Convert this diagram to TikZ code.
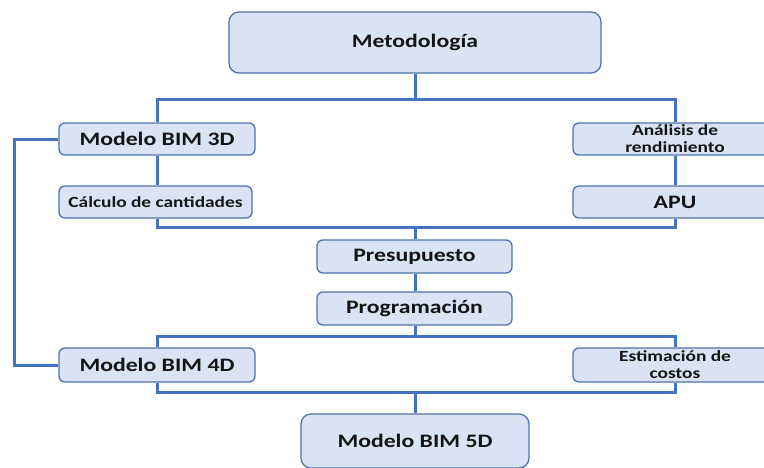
\documentclass[tikz,border=0pt]{standalone}
\usepackage{fontspec}
\setmainfont{Carlito}[FakeStretch=1.25]
\definecolor{boxfill}{HTML}{DAE3F3}
\definecolor{boxline}{HTML}{4F72AC}
\definecolor{conn}{HTML}{4472C4}
\definecolor{txt}{HTML}{141414}
\tikzset{
  box/.style={draw=boxline, line width=1.3pt, fill=boxfill, rounded corners=6pt,
    text=txt, font=\bfseries\fontsize{19}{21}\selectfont, align=center, inner sep=0pt},
  smallbox/.style={box, font=\bfseries\fontsize{15.5}{17}\selectfont},
  link/.style={draw=conn, line width=3pt}
}
\begin{document}
\begin{tikzpicture}[x=1pt,y=-1pt]
\useasboundingbox (0,0) rectangle (764,467);
\begin{scope}
\clip (0,0) rectangle (764,467);
\coordinate (b1) at (415,99);
\coordinate (b2) at (415,227);
\coordinate (b3) at (415,336);
\coordinate (b4) at (415,392);
\coordinate (lx) at (14,250);
% nodes
\node[box, rounded corners=10pt, minimum width=372pt, minimum height=61pt] (meto) at (415,42.5) {Metodología};
\node[box, minimum width=196pt, minimum height=32pt] (m3d) at (157,139) {Modelo BIM 3D};
\node[smallbox, minimum width=193pt, minimum height=32pt] (calc) at (155.5,202) {Cálculo de cantidades};
\node[smallbox, minimum width=204pt, minimum height=32pt] (anal) at (675,139) {Análisis de\\rendimiento};
\node[box, minimum width=204pt, minimum height=32pt] (apu) at (675,202) {APU};
\node[box, minimum width=195pt, minimum height=33pt] (pres) at (414.5,256.5) {Presupuesto};
\node[box, minimum width=195pt, minimum height=33pt] (prog) at (414.5,308.5) {Programación};
\node[box, minimum width=196pt, minimum height=34pt] (m4d) at (157,365) {Modelo BIM 4D};
\node[smallbox, minimum width=204pt, minimum height=34pt] (est) at (675,365) {Estimación de\\costos};
\node[box, rounded corners=10pt, minimum width=228pt, minimum height=54pt] (m5d) at (415,441) {Modelo BIM 5D};
% links
\draw[link] (meto.south) -- (b1);
\draw[link] (m3d.north) -- (m3d.north |- b1) -- (anal.north |- b1) -- (anal.north);
\draw[link] (m3d.south) -- (calc.north -| m3d.south);
\draw[link] (anal.south) -- (apu.north);
\draw[link] (calc.south -| m3d.south) -- (m3d.south |- b2) -- (apu.south |- b2) -- (apu.south);
\draw[link] (b2) -- (pres.north -| b2);
\draw[link] (pres.south -| b2) -- (prog.north -| b2);
\draw[link] (prog.south -| b3) -- (b3);
\draw[link] (m4d.north) -- (m4d.north |- b3) -- (est.north |- b3) -- (est.north);
\draw[link] (m4d.south) -- (m4d.south |- b4) -- (est.south |- b4) -- (est.south);
\draw[link] (b4) -- (m5d.north -| b4);
\draw[link] (m3d.west) -- (m3d.west -| lx) -- (m4d.west -| lx) -- (m4d.west);
\end{scope}
\end{tikzpicture}
\end{document}
